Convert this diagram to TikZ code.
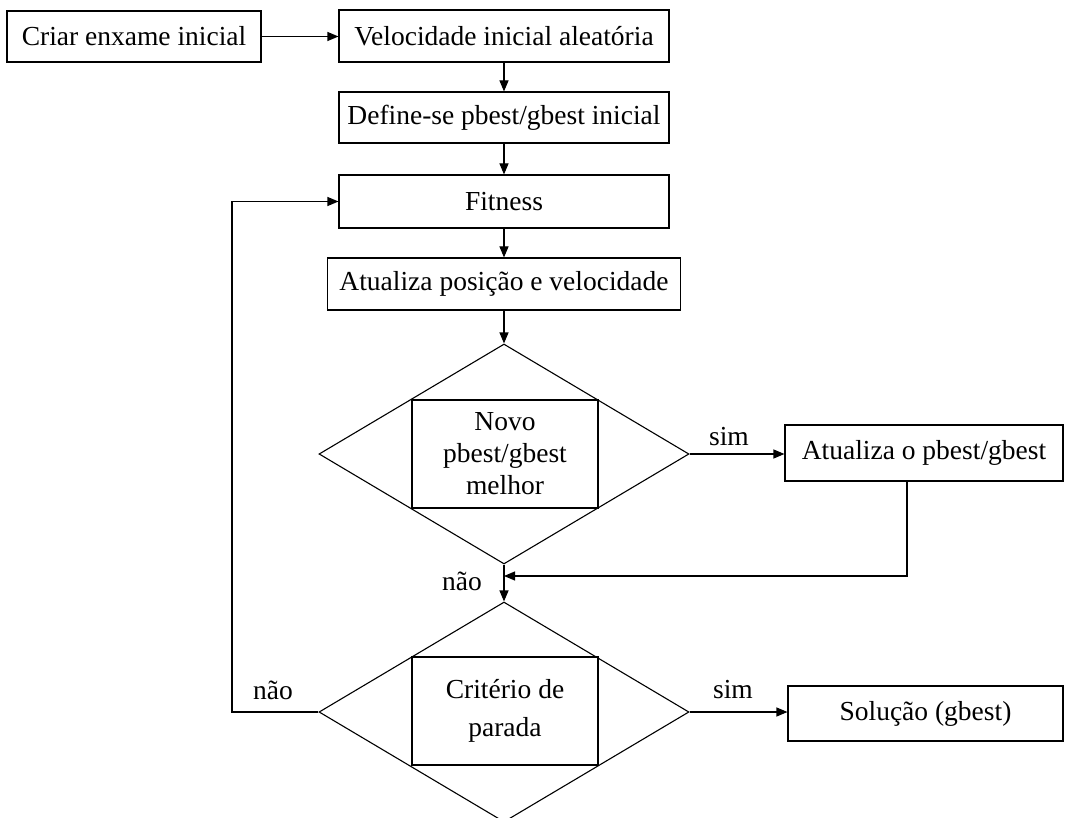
\documentclass[tikz,border=0pt]{standalone}
\usepackage{fontspec}
\setmainfont{Liberation Serif}
\usetikzlibrary{shapes.geometric,arrows.meta,calc}
\begin{document}
\begin{tikzpicture}[x=1pt,y=-1pt,
  every node/.style={font=\fontsize{27.5}{32}\selectfont},
  box/.style={draw,line width=1.1pt,rectangle,inner sep=0pt,align=center},
  dec/.style={draw,line width=1.1pt,diamond,inner sep=0pt,minimum width=370pt,minimum height=220pt},
  conn/.style={line width=1.1pt},
  arr/.style={conn,-{Triangle[length=11pt,width=9pt]}},
  lbl/.style={inner sep=0pt}]
\useasboundingbox (0,0) rectangle (1065,818);
\node[box,minimum width=254pt,minimum height=51pt] (criar) at (134,36.5) {Criar enxame inicial};
\node[box,minimum width=330pt,minimum height=52pt] (vel) at (504,36) {Velocidade inicial aleatória};
\node[box,minimum width=330pt,minimum height=51pt] (def) at (504,117.5) {Define-se pbest/gbest inicial};
\node[box,minimum width=330pt,minimum height=53pt] (fit) at (504,201.5) {Fitness};
\node[box,minimum width=353pt,minimum height=52pt] (atu) at (504,284) {Atualiza posição e velocidade};
\node[dec] (d1) at (504,454) {};
\node[box,minimum width=186pt,minimum height=108pt] (r1) at (505,454) {Novo\\pbest/gbest\\melhor};
\node[box,minimum width=278pt,minimum height=56pt] (apb) at (924,453) {Atualiza o pbest/gbest};
\node[dec] (d2) at (504,712) {};
\node[box,minimum width=186pt,minimum height=108pt,font=\fontsize{27.5}{38}\selectfont] (r2) at (505,711) {Critério de\\parada};
\node[box,minimum width=275pt,minimum height=55pt] (sol) at (925.5,713.5) {Solução (gbest)};
\coordinate (c1) at (907,576);
\coordinate (c2) at (232,712);
\draw[arr] (criar.east) -- (vel.west |- criar.east);
\draw[arr] (vel.south) -- (def.north);
\draw[arr] (def.south) -- (fit.north);
\draw[arr] (fit.south) -- (atu.north);
\draw[arr] (atu.south) -- (d1.north);
\draw[arr] (d1.east) -- (apb.west |- d1.east);
\draw[arr] (d1.south) -- (d2.north);
\draw[arr] (apb.south -| c1) |- (d1.south |- c1);
\draw[arr] (d2.east) -- (sol.west |- d2.east);
\draw[arr] (d2.west) -- (c2) |- (fit.west);
\node[lbl] (sim1) at (729,437) {sim};
\node[lbl] (nao1) at (462,581) {não};
\node[lbl] (sim2) at (733,690) {sim};
\node[lbl] (nao2) at (273,690) {não};
\end{tikzpicture}
\end{document}
